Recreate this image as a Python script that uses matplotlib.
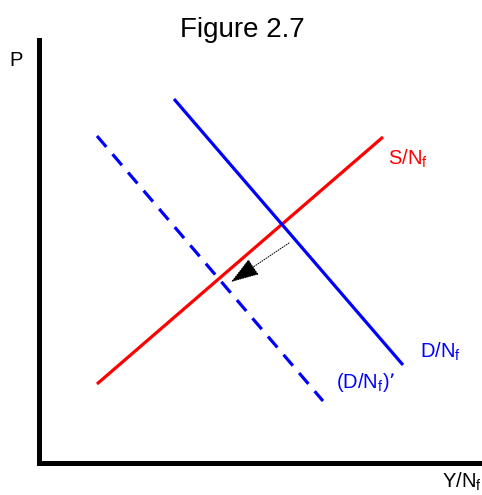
import numpy as np
import matplotlib.pyplot as plt

plt.rcParams['font.family'] = ['Liberation Sans', 'DejaVu Sans']

# curve end points (px measured from the axis corner)
supply_x = [58, 344]
supply_y = [78.5, 325.5]
demand_x = [135, 364]
demand_y = [363.5, 97.5]
demand2_x = [58, 284]
demand2_y = [326.5, 61.5]
shift_from = (250, 219.5)
shift_to = (192, 180.5)

fig = plt.figure(figsize=(4.82, 4.95), dpi=100)
ax = fig.add_axes([39 / 482, 32.5 / 495, 441 / 482, 422.5 / 495])
ax.set_xlim(0, 441)
ax.set_ylim(0, 422.5)
for side in ['top', 'right']:
    ax.spines[side].set_visible(False)
for side in ['left', 'bottom']:
    ax.spines[side].set_linewidth(3.6)
    ax.spines[side].set_color('black')
ax.set_xticks([])
ax.set_yticks([])

ax.plot(supply_x, supply_y, color='#ff0000', lw=2.3, solid_capstyle='butt')
ax.plot(demand_x, demand_y, color='#0000ff', lw=2.3, solid_capstyle='butt')
ax.plot(demand2_x, demand2_y, color='#0000ff', lw=2.3,
        linestyle=(0, (4.5, 3)), dash_capstyle='butt')

# dotted shift arrow
ax.annotate('', xy=shift_to, xytext=shift_from,
            arrowprops=dict(arrowstyle='-|>,head_length=1.8,head_width=0.6',
                            color='black', lw=0.7, linestyle=(0, (1, 1.5)),
                            shrinkA=0, shrinkB=0, mutation_scale=10))

lab = dict(fontsize=14.5, va='center', ha='left', clip_on=False)
ax.text(349, 303.5, r'S/N$_\mathregular{f}$', color='#ff0000', **lab)
ax.text(381, 110.5, r'D/N$_\mathregular{f}$', color='#0000ff', **lab)
ax.text(297, 79.5, r'(D/N$_\mathregular{f}$)’', color='#0000ff', **lab)
ax.text(403, -19.5, r'Y/N$_\mathregular{f}$', color='black', **lab)
ax.text(-23, 402.5, 'P', color='black', fontsize=14.5, ha='center',
        va='center', clip_on=False)

fig.text(242 / 482, 1 - 30 / 495, 'Figure 2.7', fontsize=20,
         ha='center', va='center')

plt.savefig('out.png', dpi=100)
